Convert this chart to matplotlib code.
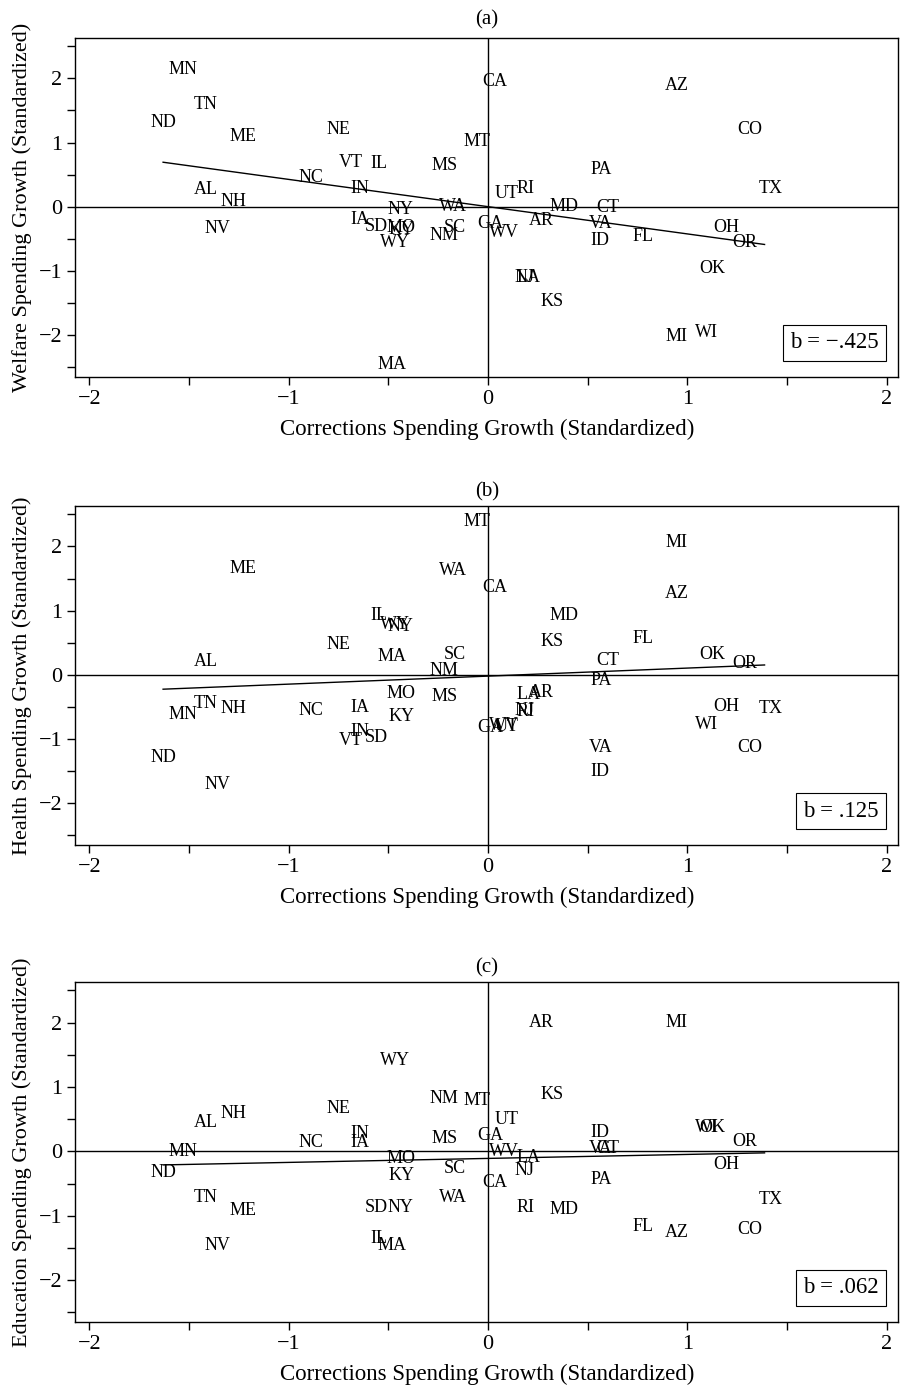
import numpy as np
import matplotlib
matplotlib.use('Agg')
import matplotlib.pyplot as plt
from matplotlib.ticker import MultipleLocator

# ── DATA ──────────────────────────────────────────────────────────
STATES = ["MN", "TN", "ND", "ME", "NE", "VT", "IL", "MS", "MT", "CA",
          "AZ", "CO", "PA", "TX", "NC", "IN", "AL", "NH", "NV", "NY",
          "WA", "IA", "SD", "MO", "KY", "WY", "NM", "SC", "GA", "WV",
          "UT", "RI", "MD", "AR", "CT", "VA", "ID", "FL", "OH", "OR",
          "OK", "NJ", "LA", "KS", "MI", "WI", "MA"]

# corrections spending growth (same for every panel)
X_CORR = [-1.53, -1.415, -1.63, -1.23, -0.75, -0.69, -0.545, -0.22, -0.055, 0.033,
          0.95, 1.315, 0.568, 1.418, -0.888, -0.641, -1.416, -1.278, -1.356, -0.44,
          -0.175, -0.643, -0.559, -0.434, -0.435, -0.465, -0.221, -0.168, 0.012, 0.08,
          0.092, 0.187, 0.382, 0.266, 0.603, 0.567, 0.563, 0.776, 1.196, 1.291,
          1.127, 0.182, 0.202, 0.32, 0.944, 1.095, -0.483]

Y_WELFARE = [2.14, 1.59, 1.31, 1.09, 1.20, 0.69, 0.68, 0.64, 1.02, 1.95,
             1.89, 1.21, 0.58, 0.29, 0.46, 0.28, 0.26, 0.08, -0.34, -0.05,
             0.005, -0.20, -0.31, -0.33, -0.36, -0.56, -0.45, -0.32, -0.26, -0.40,
             0.21, 0.28, 0.0, -0.21, -0.02, -0.27, -0.53, -0.47, -0.32, -0.56,
             -0.96, -1.10, -1.10, -1.48, -2.02, -1.97, -2.46]

Y_HEALTH = [-0.62, -0.45, -1.29, 1.66, 0.48, -1.03, 0.93, -0.33, 2.39, 1.36,
            1.26, -1.13, -0.09, -0.53, -0.55, -0.89, 0.21, -0.53, -1.71, 0.76,
            1.62, -0.51, -0.98, -0.29, -0.65, 0.79, 0.07, 0.31, -0.82, -0.79,
            -0.80, -0.57, 0.93, -0.28, 0.23, -1.13, -1.51, 0.56, -0.49, 0.18,
            0.31, -0.55, -0.31, 0.52, 2.06, -0.77, 0.28]

Y_EDUCATION = [-0.01, -0.72, -0.33, -0.92, 0.66, np.nan, -1.35, 0.20, 0.79, -0.49,
               -1.26, -1.21, -0.44, -0.75, 0.13, 0.27, 0.45, 0.59, -1.46, -0.88,
               -0.71, 0.13, -0.88, -0.11, -0.38, 1.41, 0.82, -0.27, 0.24, -0.01,
               0.49, -0.88, -0.90, 2.00, 0.05, 0.04, 0.30, -1.17, -0.20, 0.15,
               0.37, -0.30, -0.10, 0.88, 2.00, 0.37, -1.47]

PANELS = ["(a)", "(b)", "(c)"]
Y_LABELS = ["Welfare Spending Growth (Standardized)",
            "Health Spending Growth (Standardized)",
            "Education Spending Growth (Standardized)"]
SLOPES = [-0.425, 0.125, 0.062]
INTERCEPTS = [0.0, -0.02, -0.11]
B_TEXT = ["b = \u2212.425", "b = .125", "b = .062"]

SERIF = ['Liberation Serif', 'DejaVu Serif']
plt.rcParams['font.family'] = SERIF
plt.rcParams['axes.unicode_minus'] = True

# ── FIGURE ────────────────────────────────────────────────────────
fig = plt.figure(figsize=(9.03, 13.87), dpi=100)
fig.patch.set_facecolor('white')

AX_POS = [[0.0835, 0.7285, 0.9115, 0.2441],
          [0.0835, 0.3908, 0.9115, 0.2444],
          [0.0835, 0.0469, 0.9115, 0.2451]]
TITLE_PAD = [10, 7, 7]

x = np.array(X_CORR)
for i, ys in enumerate([Y_WELFARE, Y_HEALTH, Y_EDUCATION]):
    ax = fig.add_axes(AX_POS[i])
    y = np.array(ys)

    ax.axhline(0, color='black', lw=1.0, zorder=1)
    ax.axvline(0, color='black', lw=1.0, zorder=1)

    xs = np.array([np.nanmin(x), x[np.argmax(x)] - 0.03])
    ax.plot(xs, INTERCEPTS[i] + SLOPES[i] * xs, color='black', lw=1.0, zorder=2)

    for st, xv, yv in zip(STATES, x, y):
        if np.isnan(yv):
            continue
        ax.text(xv, yv, st, ha='center', va='center', fontsize=13,
                color='black', zorder=3)

    ax.text(0.976, 0.10, B_TEXT[i], transform=ax.transAxes,
            ha='right', va='center', fontsize=16.5,
            bbox=dict(boxstyle='square,pad=0.32', facecolor='white',
                      edgecolor='black', linewidth=0.8))

    ax.set_xlim(-2.07, 2.06)
    ax.set_ylim(-2.65, 2.63)
    ax.xaxis.set_major_locator(MultipleLocator(1))
    ax.xaxis.set_minor_locator(MultipleLocator(0.5))
    ax.yaxis.set_major_locator(MultipleLocator(1))
    ax.yaxis.set_minor_locator(MultipleLocator(0.5))
    ax.tick_params(which='both', direction='out', length=6, width=1.0,
                   labelsize=16, top=False, right=False, colors='black')
    for sp in ax.spines.values():
        sp.set_linewidth(1.0)
        sp.set_edgecolor('black')

    ax.set_title(PANELS[i], fontsize=15, pad=TITLE_PAD[i])
    ax.set_xlabel('Corrections Spending Growth (Standardized)', fontsize=16.5,
                  labelpad=7)
    ax.set_ylabel(Y_LABELS[i], fontsize=16, labelpad=5)

plt.savefig('out.png', dpi=100, facecolor='white')
plt.close()
